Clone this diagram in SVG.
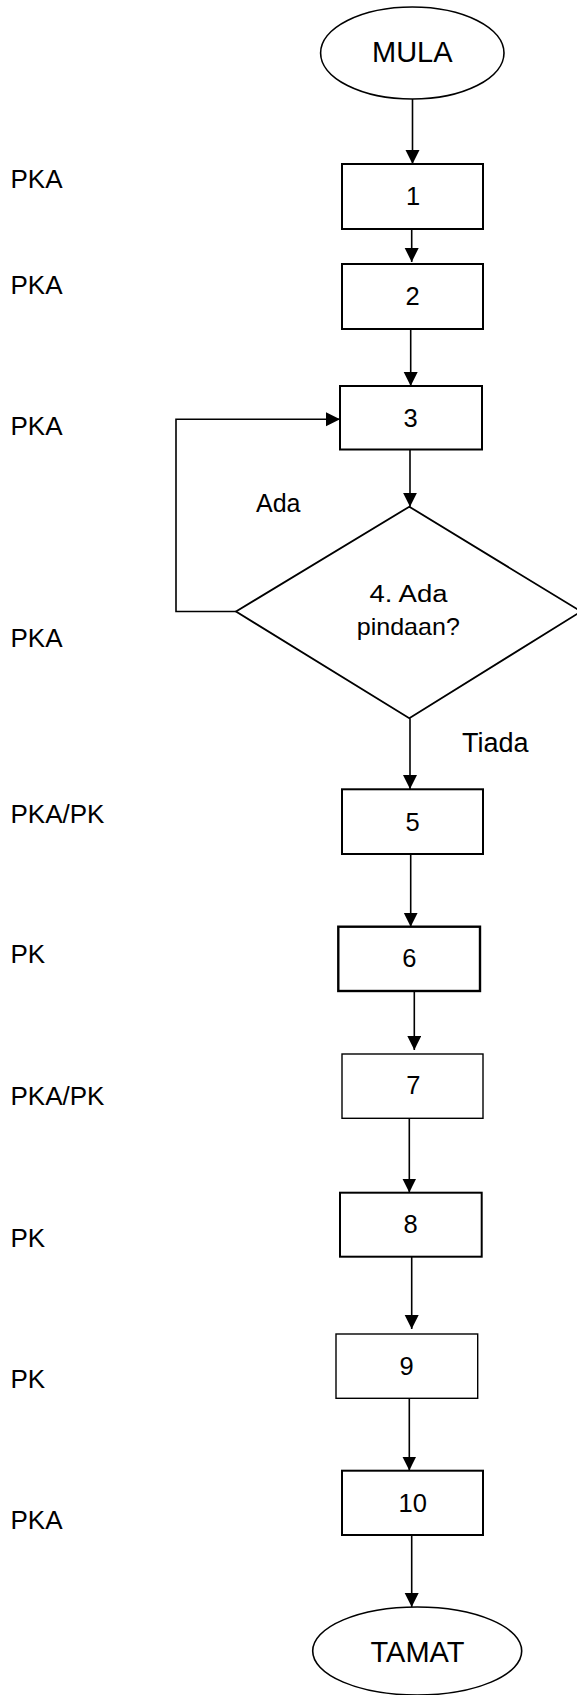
<svg xmlns="http://www.w3.org/2000/svg" width="577" height="1695" viewBox="0 0 577 1695">
  <style>
    text { font-family: "Liberation Sans", Arial, sans-serif; fill: #000; }
    .lbl { font-size: 26px; }
    .num { font-size: 25.5px; text-anchor: middle; }
    .term { font-size: 29px; text-anchor: middle; }
    .box { fill: #fff; stroke: #000; stroke-width: 2; }
    .box.thick { stroke-width: 2.4; }
    .box.thin { stroke-width: 1.4; }
    .oval { fill: #fff; stroke: #000; stroke-width: 1.6; }
    .conn { fill: none; stroke: #000; stroke-width: 1.6; marker-end: url(#arrow); }
  </style>
  <defs>
    <marker id="arrow" markerUnits="userSpaceOnUse" markerWidth="15" markerHeight="15" refX="14" refY="7" orient="auto">
      <path d="M0,0 L14,7 L0,14 z" fill="#000"/>
    </marker>
  </defs>
  <rect width="577" height="1695" fill="#fff"/>

  <!-- responsibility column -->
  <g id="roles">
    <text class="lbl" x="10.5" y="188.3">PKA</text>
    <text class="lbl" x="10.5" y="294">PKA</text>
    <text class="lbl" x="10.5" y="435">PKA</text>
    <text class="lbl" x="10.5" y="646.7">PKA</text>
    <text class="lbl" x="10.5" y="822.7">PKA/PK</text>
    <text class="lbl" x="10.5" y="963.3">PK</text>
    <text class="lbl" x="10.5" y="1105">PKA/PK</text>
    <text class="lbl" x="10.5" y="1247.3">PK</text>
    <text class="lbl" x="10.5" y="1388.3">PK</text>
    <text class="lbl" x="10.5" y="1529.3">PKA</text>
  </g>

  <!-- connectors -->
  <g id="connectors">
    <line class="conn" x1="412.5" y1="99" x2="412.5" y2="164"/>
    <line class="conn" x1="411.7" y1="229" x2="411.7" y2="262"/>
    <line class="conn" x1="410.7" y1="329" x2="410.7" y2="386"/>
    <line class="conn" x1="410" y1="449.5" x2="410" y2="506.7"/>
    <path class="conn" d="M236,611.5 H176 V419.3 H340"/>
    <line class="conn" x1="410" y1="718.3" x2="410" y2="789"/>
    <line class="conn" x1="410.7" y1="854" x2="410.7" y2="926.7"/>
    <line class="conn" x1="414.3" y1="991" x2="414.3" y2="1050"/>
    <line class="conn" x1="409.3" y1="1118.3" x2="409.3" y2="1192.5"/>
    <line class="conn" x1="411.7" y1="1256.7" x2="411.7" y2="1329"/>
    <line class="conn" x1="409.3" y1="1398.3" x2="409.3" y2="1470.5"/>
    <line class="conn" x1="411.7" y1="1535" x2="411.7" y2="1607"/>
    <text x="256" y="512.3" style="font-size:25px">Ada</text>
    <text x="462" y="751.7" style="font-size:27px">Tiada</text>
  </g>

  <g id="start">
    <ellipse class="oval" cx="412.3" cy="53" rx="91.7" ry="46"/>
    <text class="term" x="412.3" y="61.7">MULA</text>
  </g>
  <g id="step1">
    <rect class="box" x="342" y="164" width="141" height="65"/>
    <text class="num" x="413" y="205">1</text>
  </g>
  <g id="step2">
    <rect class="box" x="342" y="264" width="141" height="65"/>
    <text class="num" x="412.5" y="305">2</text>
  </g>
  <g id="step3">
    <rect class="box" x="340" y="386" width="142" height="63.5"/>
    <text class="num" x="410.7" y="427.3">3</text>
  </g>
  <g id="step4">
    <polygon points="409.3,506.7 581,611.5 409.3,718.3 236,611.5" fill="#fff" stroke="#000" stroke-width="1.8"/>
    <text x="408.5" y="601.7" style="font-size:23.5px" text-anchor="middle" textLength="78" lengthAdjust="spacingAndGlyphs">4. Ada</text>
    <text x="408.3" y="635" style="font-size:24px" text-anchor="middle" textLength="103" lengthAdjust="spacingAndGlyphs">pindaan?</text>
  </g>
  <g id="step5">
    <rect class="box" x="342" y="789.3" width="141" height="64.7"/>
    <text class="num" x="412.7" y="830.7">5</text>
  </g>
  <g id="step6">
    <rect class="box thick" x="338.3" y="926.7" width="141.7" height="64.3"/>
    <text class="num" x="409.3" y="967.3">6</text>
  </g>
  <g id="step7">
    <rect class="box thin" x="342" y="1054" width="141" height="64.3"/>
    <text class="num" x="413.3" y="1094.3">7</text>
  </g>
  <g id="step8">
    <rect class="box" x="340" y="1192.7" width="141.7" height="64"/>
    <text class="num" x="410.5" y="1233">8</text>
  </g>
  <g id="step9">
    <rect class="box thin" x="336" y="1334" width="141.7" height="64.3"/>
    <text class="num" x="406.7" y="1375">9</text>
  </g>
  <g id="step10">
    <rect class="box" x="342" y="1470.7" width="141" height="64.3"/>
    <text class="num" x="412.7" y="1511.7">10</text>
  </g>
  <g id="end">
    <ellipse class="oval" cx="417.2" cy="1651" rx="104.5" ry="44"/>
    <text class="term" x="417.5" y="1661.7">TAMAT</text>
  </g>
</svg>
